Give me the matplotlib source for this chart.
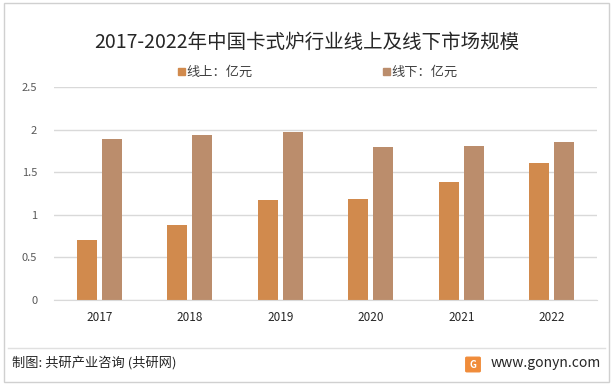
import numpy as np
import matplotlib.pyplot as plt
from matplotlib.patches import Rectangle, FancyBboxPatch

plt.rcParams['font.family'] = ['Noto Sans CJK SC', 'DejaVu Sans']

years = ['2017', '2018', '2019', '2020', '2021', '2022']
online = [0.70, 0.88, 1.17, 1.19, 1.38, 1.61]
offline = [1.89, 1.94, 1.97, 1.80, 1.81, 1.85]
series_names = ['线上：亿元', '线下：亿元']
yticks = [0, 0.5, 1, 1.5, 2, 2.5]
ytick_labels = ['0', '0.5', '1', '1.5', '2', '2.5']

c_on = '#D18A4D'
c_off = '#BB8D6C'

fig = plt.figure(figsize=(6.13, 3.85), dpi=100)
ax = fig.add_axes([0.088, 0.221, 0.886, 0.553])

x = np.arange(len(years))
w = 0.22
ax.bar(x - 0.138, online, width=w, color=c_on, zorder=2)
ax.bar(x + 0.138, offline, width=w, color=c_off, zorder=2)

ax.set_xlim(-0.5, len(years) - 0.5)
ax.set_ylim(0, 2.5)
ax.set_yticks(yticks)
ax.set_yticklabels(ytick_labels)
ax.set_xticks(x)
ax.set_xticklabels(years)
ax.yaxis.grid(True, color='#D9D9D9', linewidth=1, zorder=0)
for s in ['top', 'right', 'left']:
    ax.spines[s].set_visible(False)
ax.spines['bottom'].set_color('#D9D9D9')
ax.tick_params(axis='y', length=0, labelsize=8, labelcolor='#595959', pad=12)
ax.tick_params(axis='x', length=0, labelsize=8.5, labelcolor='#262626', pad=8)

# title and legend
fig.text(0.5, 1 - 42 / 385, '2017-2022年中国卡式炉行业线上及线下市场规模', ha='center', va='center',
         fontsize=14, color='#262626')
for px, col, name in [(180, c_on, series_names[0]), (385, c_off, series_names[1])]:
    fig.patches.append(Rectangle((px / 613 - 0.004, 1 - 75 / 385), 7 / 613, 7 / 385,
                                 transform=fig.transFigure, color=col))
    fig.text((px + 6) / 613, 1 - 72 / 385, name, ha='left', va='center', fontsize=9.5, color='#404040')

# footer
fig.add_artist(plt.Line2D([8 / 613, 605 / 613], [1 - 348 / 385, 1 - 348 / 385],
                          transform=fig.transFigure, color='#E0E0E0', linewidth=1))
fig.text(12 / 613, 1 - 364 / 385, '制图: 共研产业咨询 (共研网)', ha='left', va='center', fontsize=9.5, color='#262626')
fig.patches.append(FancyBboxPatch((467 / 613, 1 - 371 / 385), 12 / 613, 13 / 385,
                                  boxstyle='round,pad=0.002', transform=fig.transFigure,
                                  color='#F08C3A'))
fig.text(473 / 613, 1 - 364.5 / 385, 'G', ha='center', va='center', fontsize=7, color='white', fontweight='bold')
fig.text(601 / 613, 1 - 363 / 385, 'www.gonyn.com', ha='right', va='center', fontsize=10, color='#262626')

# outer border
fig.patches.append(Rectangle((4 / 613, 3 / 385), 605 / 613, 379 / 385, transform=fig.transFigure,
                             fill=False, edgecolor='#D0D0D0', linewidth=1))

fig.savefig('out.png', dpi=100)
